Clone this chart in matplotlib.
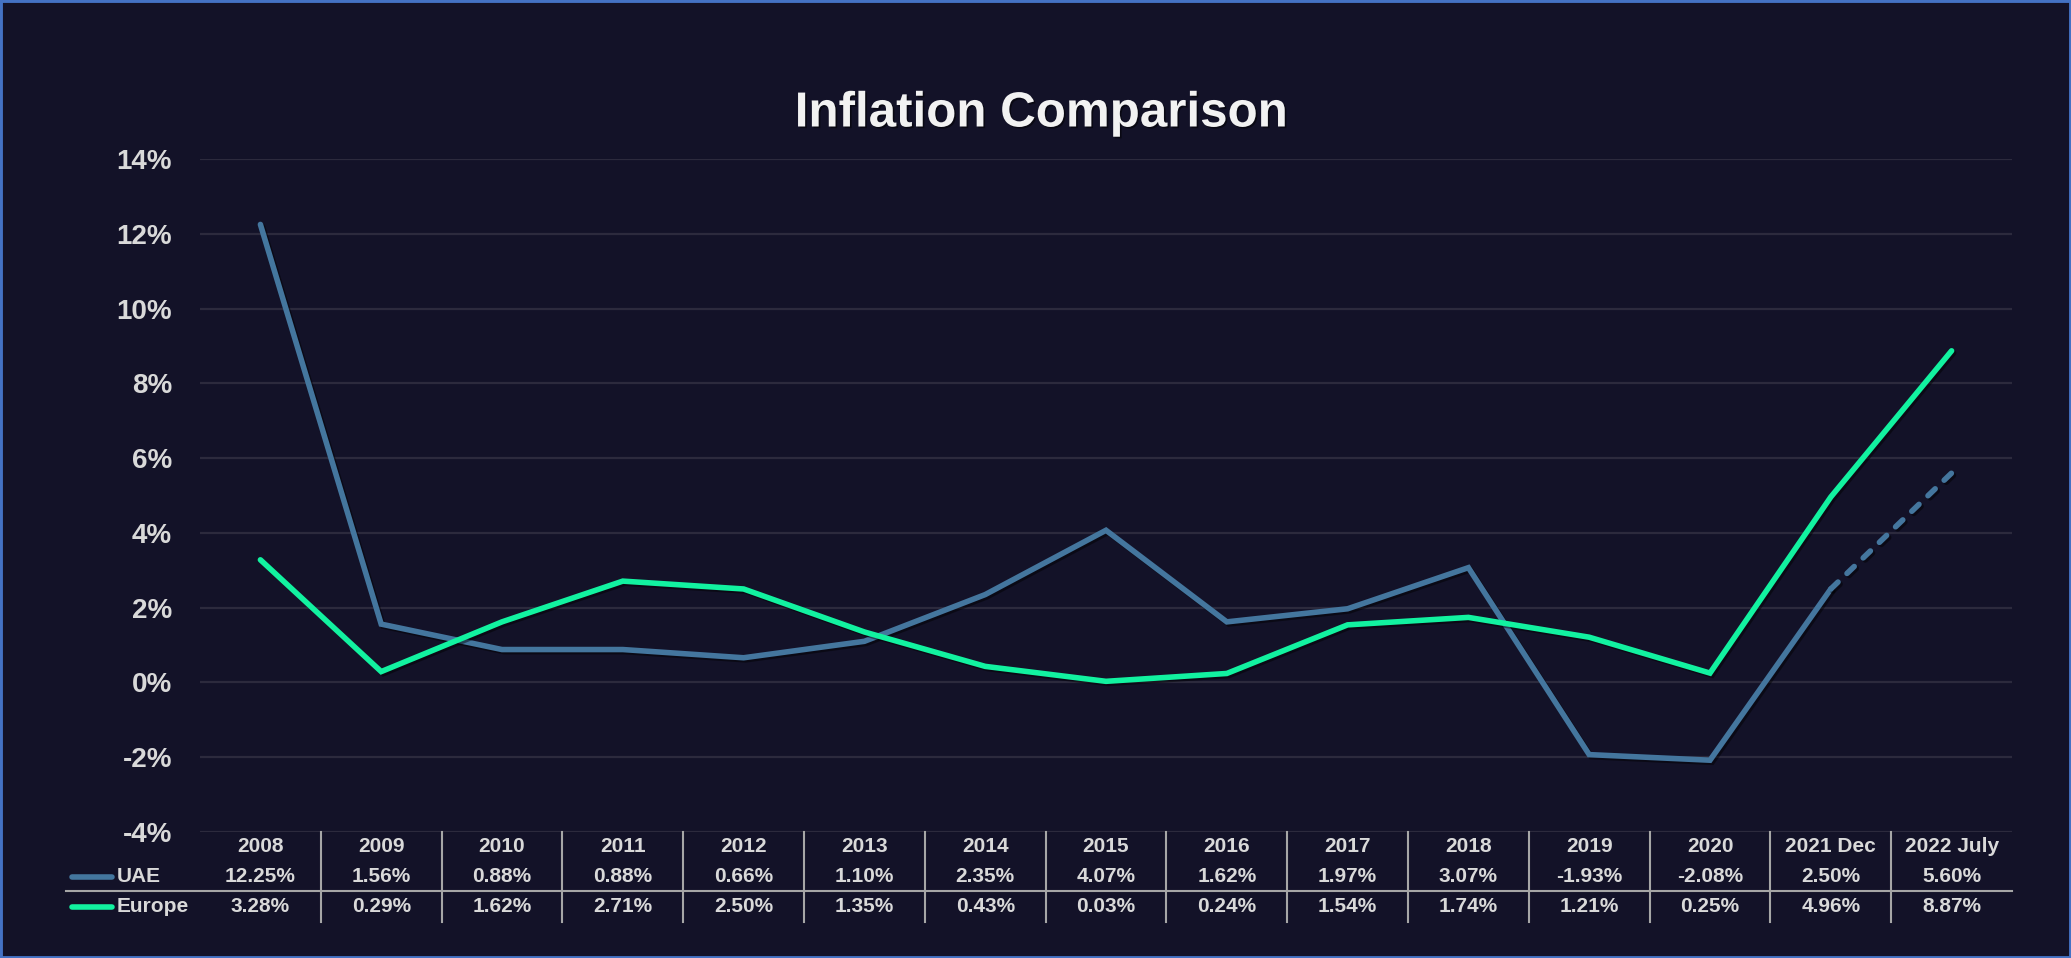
import matplotlib
matplotlib.use("Agg")
import matplotlib.pyplot as plt
import matplotlib.patheffects as pe
from matplotlib.patches import Rectangle
from matplotlib.lines import Line2D
import matplotlib.transforms as mtransforms

categories = ["2008", "2009", "2010", "2011", "2012", "2013", "2014", "2015",
              "2016", "2017", "2018", "2019", "2020", "2021 Dec", "2022 July"]
uae = [12.25, 1.56, 0.88, 0.88, 0.66, 1.10, 2.35, 4.07, 1.62, 1.97, 3.07, -1.93, -2.08, 2.50, 5.60]
europe = [3.28, 0.29, 1.62, 2.71, 2.50, 1.35, 0.43, 0.03, 0.24, 1.54, 1.74, 1.21, 0.25, 4.96, 8.87]
yticks = [-4, -2, 0, 2, 4, 6, 8, 10, 12, 14]
title = "Inflation Comparison"

BG = "#131228"
GRID = "#2c2a3d"
TXT = "#d9d9d9"
C_UAE = "#44769e"
C_EU = "#12f2a0"
BORDER = "#4472c4"

W, H = 2071, 958
fig = plt.figure(figsize=(W / 100, H / 100), dpi=100, facecolor=BG)
plt.rcParams['font.family'] = ['Liberation Sans', 'DejaVu Sans']

def fx(px):
    return px / W

def fy(py):
    return (H - py) / H

ax = fig.add_axes([fx(200), fy(832), fx(2012) - fx(200), fy(159) - fy(832)])
ax.set_facecolor(BG)
n = len(categories)
xs = list(range(n))
ax.set_xlim(-0.5, n - 0.5)
ax.set_ylim(-4, 14)
ax.set_yticks(yticks)
ax.set_yticklabels([f"{t}%" for t in yticks], fontsize=20, fontweight='bold', color=TXT)
ax.tick_params(axis='y', length=0, pad=20)
ax.set_xticks([])
for s in ax.spines.values():
    s.set_visible(False)
ax.grid(axis='y', color=GRID, linewidth=1.6)
ax.set_axisbelow(True)

shadow = [pe.SimpleLineShadow(offset=(1.5, -1.5), shadow_color='black', alpha=0.45), pe.Normal()]
lw = 4.0
ax.plot(xs[:-1], uae[:-1], color=C_UAE, lw=lw, solid_capstyle='round',
        solid_joinstyle='miter', path_effects=shadow, zorder=3)
ax.plot(xs[-2:], uae[-2:], color=C_UAE, lw=lw, linestyle=(0, (1.8, 2.24)),
        dash_capstyle='round', path_effects=shadow, zorder=3)
ax.plot(xs, europe, color=C_EU, lw=lw, solid_capstyle='round',
        solid_joinstyle='miter', path_effects=shadow, zorder=4)

# Title
fig.text(fx(1041), fy(114), title, ha='center', va='center', fontsize=35.5,
         fontweight='bold', color='#f2f2f2',
         path_effects=[pe.withSimplePatchShadow(offset=(1.2, -1.2), shadow_rgbFace='black', alpha=0.5)])

# Data table
trans = mtransforms.blended_transform_factory(ax.transData, fig.transFigure)
tfs = 15
for i, c in enumerate(categories):
    fig.text(i, fy(846), c, transform=trans, ha='center', va='center',
             fontsize=tfs, fontweight='bold', color=TXT)
    fig.text(i, fy(877), f"{uae[i]:.2f}%", transform=trans, ha='center', va='center',
             fontsize=tfs, fontweight='bold', color=TXT)
    fig.text(i, fy(907), f"{europe[i]:.2f}%", transform=trans, ha='center', va='center',
             fontsize=tfs, fontweight='bold', color=TXT)
for i in range(n - 1):
    fig.add_artist(Line2D([i + 0.5, i + 0.5], [fy(832), fy(922)], transform=trans,
                          color='#a6a6a6', lw=1.5))
fig.add_artist(Line2D([fx(66), fx(2012)], [fy(891), fy(891)], transform=fig.transFigure,
                      color='#a6a6a6', lw=1.5))

# Row legend keys
for yy, col, lab in [(877, C_UAE, "UAE"), (907, C_EU, "Europe")]:
    fig.add_artist(Line2D([fx(72), fx(112)], [fy(yy), fy(yy)], transform=fig.transFigure,
                          color=col, lw=lw, solid_capstyle='round'))
    fig.text(fx(117), fy(yy), lab, ha='left', va='center', fontsize=tfs,
             fontweight='bold', color=TXT)

# Border
fig.add_artist(Rectangle((0, 0), 1, 1, transform=fig.transFigure, fill=False,
                         edgecolor=BORDER, lw=3.5))

fig.savefig("out.png", dpi=100, facecolor=BG)
